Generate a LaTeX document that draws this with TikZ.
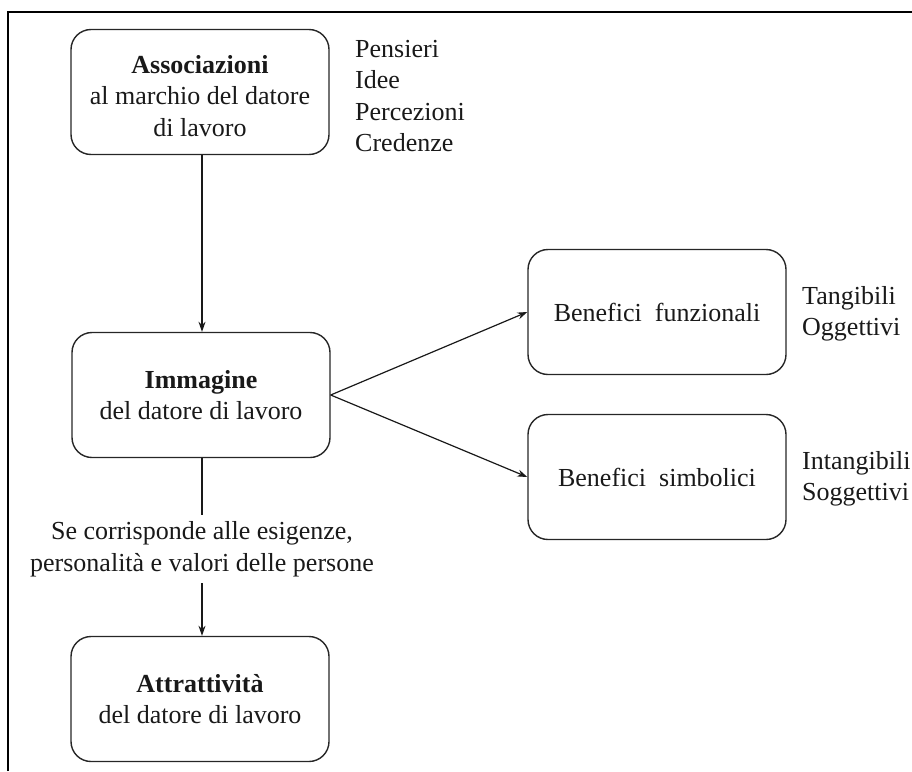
\documentclass[tikz,border=0pt]{standalone}
\usepackage{fontspec}
\setmainfont{Liberation Serif}
\usetikzlibrary{arrows.meta}
\begin{document}
\begin{tikzpicture}[x=1pt,y=-1pt,
  box/.style={draw=black!85, line width=1.4pt, rounded corners=20pt, minimum width=258pt, minimum height=125pt, align=center, text=black!90, inner sep=0pt},
  txt/.style={align=left, text=black!90, inner sep=0pt},
  link/.style={line width=1.2pt, draw=black!90},
  arr/.style={link, -{Stealth[length=10pt,width=7pt]}},
  font=\fontsize{26}{31.5}\selectfont]
\useasboundingbox (0,0) rectangle (912,771);
\draw[line width=2pt] (8,771) -- (8,12) -- (912,12);

\node[box] (A) at (200,92) {};
\node[txt, align=center] (At) at (200,96) {\textbf{Associazioni}\\al marchio del datore\\di lavoro};
\node[box] (I) at (201,395) {\textbf{Immagine}\\del datore di lavoro};
\node[box] (F) at (657,312) {Benefici\ \ funzionali};
\node[box] (S) at (657,477) {Benefici\ \ simbolici};
\node[box] (T) at (200,699) {\textbf{Attrattività}\\del datore di lavoro};

\node[txt, anchor=west] (P) at (355,96) {Pensieri\\Idee\\Percezioni\\Credenze};
\node[txt, anchor=west] (TO) at (802,314) {Tangibili\\Oggettivi};
\node[txt, anchor=west] (IS) at (802,479) {Intangibili\\Soggettivi};

\node[txt, align=center] (C) at (202,549) {Se corrisponde alle esigenze,\\personalità e valori delle persone};
\coordinate (c1) at (202,515);
\coordinate (c2) at (202,583);

\draw[arr] (A.south -| 202,0) -- (I.north -| 202,0);
\draw[arr] (I.east) -- (F.west);
\draw[arr] (I.east) -- (S.west);
\draw[link] (I.south -| 202,0) -- (c1);
\draw[arr] (c2) -- (T.north -| 202,0);
\end{tikzpicture}
\end{document}
